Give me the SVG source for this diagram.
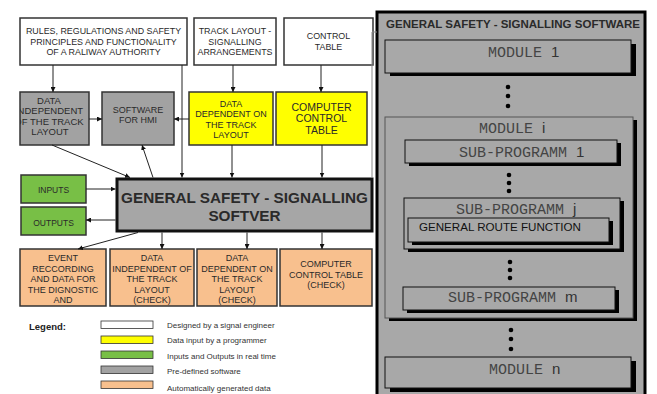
<svg xmlns="http://www.w3.org/2000/svg" width="657" height="394" viewBox="0 0 657 394">
<style>
  .t{font-family:"Liberation Sans",Arial,sans-serif;fill:#2a2a2a;text-anchor:middle}
  .box{stroke:#333;stroke-width:1.5}
  .w{fill:#fff}.g{fill:#a2a2a2}.y{fill:#ffff00}.gr{fill:#78bf46}.o{fill:#f8c08e}
  .c{stroke:#222;stroke-width:1;fill:none;marker-end:url(#ah)}
  .rb{fill:#a8a8a8;stroke:#111;stroke-width:1}
  .sh{fill:#000}
  .m{font-family:"Liberation Mono","Courier New",monospace;font-size:15px;fill:#444}
  .ms{font-family:"Liberation Sans",Arial,sans-serif;font-size:15px;fill:#333}
  .lg{font-family:"Liberation Sans",Arial,sans-serif;font-size:8px;fill:#333}
  .sw{stroke:#333;stroke-width:0.8}
</style>
<defs>
  <marker id="ah" viewBox="0 0 8 8" refX="8" refY="4" markerWidth="5" markerHeight="5" orient="auto" markerUnits="userSpaceOnUse">
    <path d="M0,0 L8,4 L0,8 z" fill="#111"/>
  </marker>
  <clipPath id="cdi"><rect x="20" y="92" width="69" height="53"/></clipPath>
</defs>
<rect width="657" height="394" fill="#fff"/>

<!-- right panel -->
<g id="right-panel">
  <rect x="377" y="12" width="268" height="392" fill="#a8a8a8" stroke="#000" stroke-width="3"/>
  <text x="513" y="28" class="t" font-weight="bold" font-size="11.5" fill="#111">GENERAL SAFETY - SIGNALLING SOFTWARE</text>
</g>
<g id="module1">
  <rect x="390" y="44" width="246" height="32" class="sh"/>
  <rect x="385" y="40" width="246" height="33" class="rb"/>
  <text x="488" y="57" class="m">MODULE <tspan class="ms">1</tspan></text>
</g>
<g id="dots1" fill="#000">
  <circle cx="508" cy="87" r="2.3"/><circle cx="508" cy="96" r="2.3"/><circle cx="508" cy="106" r="2.3"/>
</g>
<g id="modulei">
  <rect x="389" y="120" width="248" height="201" class="sh"/>
  <rect x="385" y="117" width="248" height="201" fill="#a8a8a8" stroke="#555" stroke-width="1"/>
  <text x="479" y="133" class="m">MODULE <tspan class="ms">i</tspan></text>
</g>
<g id="sub1">
  <rect x="409" y="143" width="212" height="23" class="sh"/>
  <rect x="405" y="140" width="212" height="23" class="rb"/>
  <text x="459" y="157" class="m">SUB-PROGRAMM <tspan class="ms">1</tspan></text>
</g>
<g id="dots2" fill="#000">
  <circle cx="509" cy="175" r="2.3"/><circle cx="509" cy="183" r="2.3"/><circle cx="509" cy="191" r="2.3"/>
</g>
<g id="subj">
  <rect x="408" y="201" width="216" height="51" class="sh"/>
  <rect x="404" y="198" width="216" height="51" class="rb"/>
  <text x="456" y="214" class="m">SUB-PROGRAMM <tspan class="ms">j</tspan></text>
</g>
<g id="grf">
  <rect x="412" y="221" width="201" height="24" class="sh"/>
  <rect x="408" y="218" width="201" height="24" class="rb"/>
  <text x="419" y="231" font-family="Liberation Sans,Arial,sans-serif" font-size="11.6" fill="#111">GENERAL ROUTE FUNCTION</text>
</g>
<g id="dots3" fill="#000">
  <circle cx="510" cy="262" r="2.3"/><circle cx="510" cy="270" r="2.3"/><circle cx="510" cy="278" r="2.3"/>
</g>
<g id="subm">
  <rect x="407" y="290" width="212" height="23" class="sh"/>
  <rect x="403" y="287" width="212" height="23" class="rb"/>
  <text x="448" y="302" class="m">SUB-PROGRAMM <tspan class="ms">m</tspan></text>
</g>
<g id="dots4" fill="#000">
  <circle cx="511" cy="330" r="2.3"/><circle cx="511" cy="339" r="2.3"/><circle cx="511" cy="349" r="2.3"/>
</g>
<g id="modulen">
  <rect x="390" y="361" width="246" height="31" class="sh"/>
  <rect x="385" y="357" width="246" height="31" class="rb"/>
  <text x="489" y="374" class="m">MODULE <tspan class="ms">n</tspan></text>
</g>

<!-- left top row -->
<g id="rules">
  <rect x="20" y="18" width="167" height="47" class="box w"/>
  <text class="t" font-size="8.9"><tspan x="103.5" y="34">RULES, REGULATIONS AND SAFETY</tspan><tspan x="103.5" y="45">PRINCIPLES AND FUNCTIONALITY</tspan><tspan x="103.5" y="55">OF A RALIWAY AUTHORITY</tspan></text>
</g>
<g id="track-layout">
  <rect x="194" y="18" width="82" height="47" class="box w"/>
  <text class="t" font-size="8.9"><tspan x="235" y="34">TRACK LAYOUT -</tspan><tspan x="235" y="45">SIGNALLING</tspan><tspan x="235" y="55">ARRANGEMENTS</tspan></text>
</g>
<g id="control-table">
  <rect x="284" y="18" width="89" height="47" class="box w"/>
  <text class="t" font-size="8.9"><tspan x="328.5" y="39">CONTROL</tspan><tspan x="328.5" y="50">TABLE</tspan></text>
</g>

<!-- second row -->
<g id="data-independent">
  <rect x="20" y="92" width="69" height="53" class="box g"/>
  <text class="t" font-size="9.5" clip-path="url(#cdi)"><tspan x="49" y="103.5">DATA</tspan><tspan x="49" y="113.5">INDEPENDENT</tspan><tspan x="49" y="124.5">OF THE TRACK</tspan><tspan x="50" y="134.5">LAYOUT</tspan></text>
</g>
<g id="software-hmi">
  <rect x="102" y="92" width="72" height="53" class="box g"/>
  <text class="t" font-size="9"><tspan x="138" y="113">SOFTWARE</tspan><tspan x="138" y="123">FOR HMI</tspan></text>
</g>
<g id="data-dependent">
  <rect x="189" y="92" width="84" height="53" class="box y"/>
  <text class="t" font-size="9"><tspan x="231" y="107">DATA</tspan><tspan x="231" y="117">DEPENDENT ON</tspan><tspan x="231" y="127.5">THE TRACK</tspan><tspan x="231" y="138">LAYOUT</tspan></text>
</g>
<g id="computer-control-table">
  <rect x="276" y="92" width="91" height="53" class="box y"/>
  <text class="t" font-size="10.5"><tspan x="321.5" y="111">COMPUTER</tspan><tspan x="321.5" y="122">CONTROL</tspan><tspan x="321.5" y="134">TABLE</tspan></text>
</g>

<!-- inputs/outputs -->
<g id="inputs">
  <rect x="21" y="175" width="65" height="28" class="box gr"/>
  <text x="53.5" y="193" class="t" font-size="8.5">INPUTS</text>
</g>
<g id="outputs">
  <rect x="21" y="207" width="65" height="28" class="box gr"/>
  <text x="53.5" y="226" class="t" font-size="8.5">OUTPUTS</text>
</g>

<!-- main -->
<g id="main">
  <rect x="117" y="179" width="255" height="52" fill="#a6a6a6" stroke="#111" stroke-width="3"/>
  <text class="t" font-size="15.3" font-weight="bold" fill="#222"><tspan x="244.5" y="203">GENERAL SAFETY - SIGNALLING</tspan><tspan x="244.5" y="221">SOFTVER</tspan></text>
</g>

<!-- bottom row -->
<g id="event">
  <rect x="20" y="249" width="86" height="57" class="box o"/>
  <text class="t" font-size="9"><tspan x="63" y="261">EVENT</tspan><tspan x="63" y="271.5">RECCORDING</tspan><tspan x="63" y="282">AND DATA FOR</tspan><tspan x="63" y="292.5">THE DIGNOSTIC</tspan><tspan x="63" y="303">AND</tspan></text>
</g>
<g id="data-independent-check">
  <rect x="110" y="249" width="84" height="57" class="box o"/>
  <text class="t" font-size="9"><tspan x="152" y="261">DATA</tspan><tspan x="152" y="271.5">INDEPENDENT OF</tspan><tspan x="152" y="282">THE TRACK</tspan><tspan x="152" y="292.5">LAYOUT</tspan><tspan x="152" y="303">(CHECK)</tspan></text>
</g>
<g id="data-dependent-check">
  <rect x="197" y="249" width="80" height="57" class="box o"/>
  <text class="t" font-size="9"><tspan x="237" y="261">DATA</tspan><tspan x="237" y="271.5">DEPENDENT ON</tspan><tspan x="237" y="282">THE TRACK</tspan><tspan x="237" y="292.5">LAYOUT</tspan><tspan x="237" y="303">(CHECK)</tspan></text>
</g>
<g id="cct-check">
  <rect x="280" y="249" width="92" height="57" class="box o"/>
  <text class="t" font-size="9"><tspan x="326" y="267">COMPUTER</tspan><tspan x="326" y="277.5">CONTROL TABLE</tspan><tspan x="326" y="288">(CHECK)</tspan></text>
</g>

<!-- connectors -->
<g id="connectors">
  <line x1="53" y1="65" x2="53" y2="92" class="c"/>
  <line x1="182" y1="65" x2="182" y2="177.5" class="c"/>
  <line x1="233" y1="65" x2="233" y2="92" class="c"/>
  <line x1="321" y1="65" x2="321" y2="92" class="c"/>
  <line x1="89" y1="119" x2="102" y2="119" class="c"/>
  <line x1="189" y1="119" x2="174" y2="119" class="c"/>
  <line x1="52" y1="145" x2="130" y2="177.5" class="c"/>
  <line x1="153" y1="177.5" x2="142" y2="145" class="c"/>
  <line x1="232" y1="145" x2="232" y2="177.5" class="c"/>
  <line x1="322" y1="145" x2="322" y2="177.5" class="c"/>
  <line x1="86" y1="189" x2="115.5" y2="189" class="c"/>
  <line x1="115.5" y1="220" x2="86" y2="220" class="c"/>
  <line x1="138" y1="232.5" x2="78" y2="249" class="c"/>
  <line x1="162" y1="232.5" x2="162" y2="249" class="c"/>
  <line x1="247" y1="232.5" x2="247" y2="249" class="c"/>
  <line x1="322" y1="232.5" x2="322" y2="249" class="c"/>
  <polyline points="372,178 372,32 377,32" fill="none" stroke="#888" stroke-width="1"/>
</g>

<!-- legend -->
<g id="legend">
  <text x="29" y="330" font-family="Liberation Sans,Arial,sans-serif" font-size="9.5" font-weight="bold" fill="#222">Legend:</text>
  <rect x="101" y="321" width="52" height="7.5" class="sw" fill="#fff"/>
  <rect x="101" y="336" width="52" height="7.5" class="sw" fill="#ffff00"/>
  <rect x="101" y="351" width="52" height="7.5" class="sw" fill="#78bf46"/>
  <rect x="101" y="366" width="52" height="7.5" class="sw" fill="#a2a2a2"/>
  <rect x="101" y="381" width="52" height="7.5" class="sw" fill="#f8c08e"/>
  <text x="167" y="328" class="lg">Designed by a signal engineer</text>
  <text x="167" y="343" class="lg">Data input by a programmer</text>
  <text x="167" y="359" class="lg">Inputs and Outputs in real time</text>
  <text x="167" y="374" class="lg">Pre-defined software</text>
  <text x="167" y="391" class="lg">Automatically generated data</text>
</g>
</svg>
